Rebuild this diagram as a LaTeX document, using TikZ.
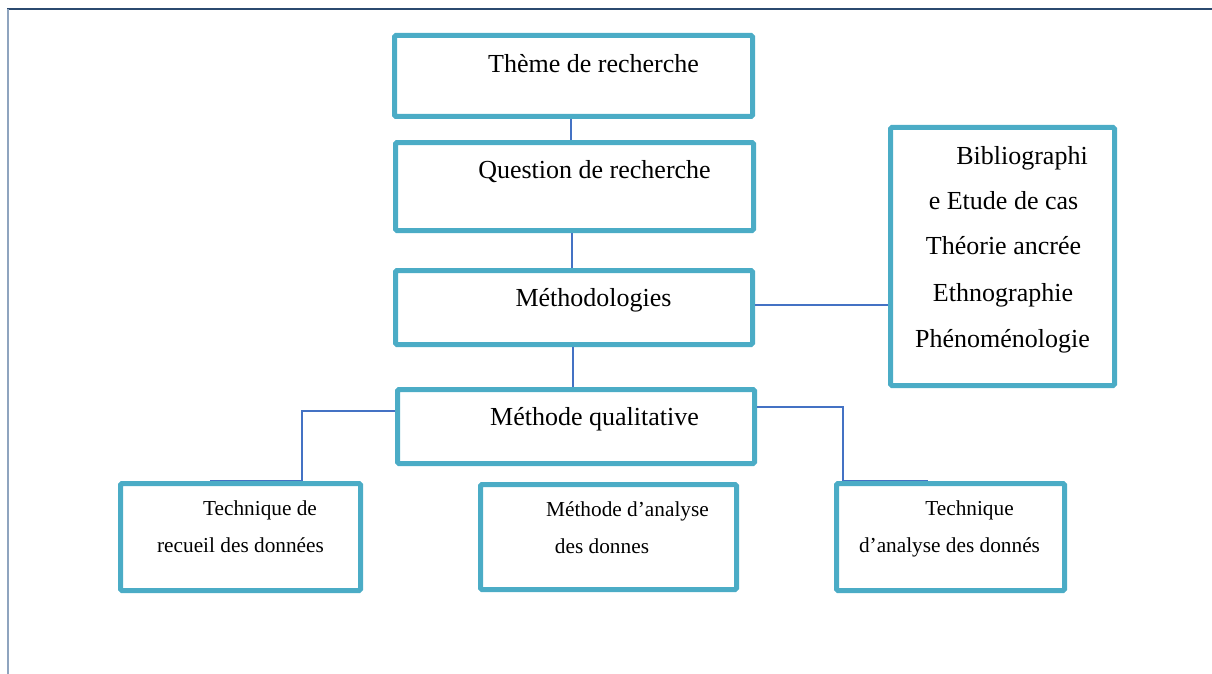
\documentclass[tikz,border=0pt]{standalone}
\usepackage{fontspec}
\setmainfont{Liberation Serif}
\definecolor{boxblue}{HTML}{4BACC6}
\definecolor{linkblue}{HTML}{4472C4}
\definecolor{frametop}{HTML}{2B4A6F}
\definecolor{frameleft}{HTML}{8FA4BF}
\begin{document}
\begin{tikzpicture}[x=1pt,y=-1pt,
  box/.style={draw=boxblue,line width=5pt,rounded corners=1.5pt,inner sep=0pt,
              minimum width=#1},
  big/.style={anchor=base,inner sep=0pt,font=\fontsize{26}{31}\selectfont},
  small/.style={anchor=base,inner sep=0pt,font=\fontsize{21.3}{25}\selectfont},
  link/.style={draw=linkblue,line width=1.5pt}]
\useasboundingbox (0,0) rectangle (1212,674);
% page frame
\draw[frametop,line width=1.5pt] (7,9) -- (1212,9);
\draw[frameleft,line width=2pt] (8,9) -- (8,674);

% boxes
\node[box=358pt,minimum height=81pt] (theme)    at (573.5,76)   {};
\node[box=358pt,minimum height=88pt] (question) at (574.5,186.5) {};
\node[box=357pt,minimum height=74pt] (methodo)  at (574,307.5)  {};
\node[box=357pt,minimum height=74pt] (qualit)   at (576,426.5)  {};
\node[box=224pt,minimum height=258pt] (approach) at (1002.5,256.5) {};
\node[box=240pt,minimum height=107pt] (collect)  at (240.5,537) {};
\node[box=256pt,minimum height=105pt] (analysis) at (608.5,537) {};
\node[box=228pt,minimum height=107pt] (technique) at (950.5,537) {};

% labels
\node[big] (t1) at (593.5,72.5) {Thème de recherche};
\node[big] (t2) at (594.5,178.5) {Question de recherche};
\node[big] (t3) at (593.5,306.5) {Méthodologies};
\node[big] (t4) at (594.5,425) {Méthode qualitative};

\node[big] (a1) at (1022,164.5) {Bibliographi};
\node[big] (a2) at (1003.5,209.5) {e Etude de cas};
\node[big] (a3) at (1003.5,254.5) {Théorie ancrée};
\node[big] (a4) at (1003,301.5) {Ethnographie};
\node[big] (a5) at (1002.5,347.5) {Phénoménologie};

\node[small] (c1) at (260,515) {Technique de};
\node[small] (c2) at (240.5,552) {recueil des données};
\node[small] (d1) at (627.5,516) {Méthode d’analyse};
\node[small] (d2) at (602,553) {des donnes};
\node[small] (e1) at (969.5,515) {Technique};
\node[small] (e2) at (949.5,552) {d’analyse des donnés};

% connectors
\draw[link] ([xshift=-2.5pt]theme.south) -- ([xshift=-3.5pt]question.north);
\draw[link] ([xshift=-2.5pt]question.south) -- ([xshift=-2pt]methodo.north);
\draw[link] ([xshift=-1pt]methodo.south) -- ([xshift=-3pt]qualit.north);
\draw[link] ([yshift=2.5pt]methodo.east) coordinate (m1) -- (m1 -| approach.west);
\draw[link] ([yshift=15.5pt]qualit.west) -| ([xshift=61.5pt,yshift=0.5pt]collect.north)
  -- ([xshift=-30.5pt,yshift=0.5pt]collect.north);
\draw[link] ([yshift=19.5pt]qualit.east) -| ([xshift=-107.5pt,yshift=0.5pt]technique.north)
  -- ([xshift=-22.5pt,yshift=0.5pt]technique.north);
\end{tikzpicture}
\end{document}
